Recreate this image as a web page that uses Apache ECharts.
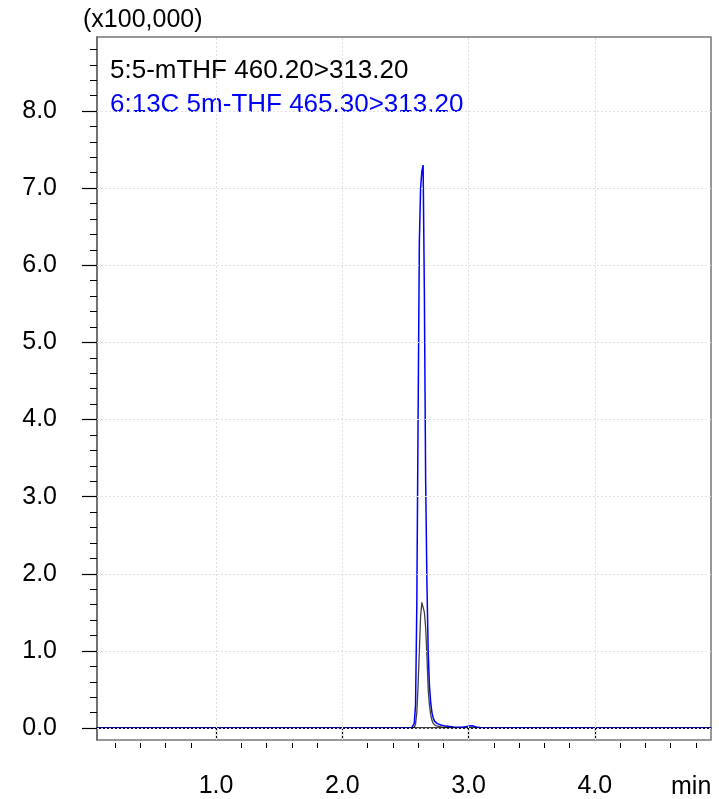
<!DOCTYPE html>
<html>
<head>
<meta charset="utf-8">
<script src="https://cdn.jsdelivr.net/npm/echarts@6/dist/echarts.min.js"></script>
<style>html,body{margin:0;padding:0;background:#fff;}#c{width:719px;height:799px;}</style>
</head>
<body>
<div id="c"></div>
<script>
// ---- data ----
const seriesNames = ['5:5-mTHF 460.20>313.20', '6:13C 5m-THF 465.30>313.20'];
const blackTime = [0.057,1.0,2.0,2.55,2.56,2.57,2.58,2.59,2.60,2.61,2.62,2.63,2.64,2.65,2.66,2.67,2.68,2.69,2.70,2.71,2.72,2.74,2.78,2.85,2.90,3.0,3.5,4.0,4.92];
const blackVal  = [0,0,0,0,0.005,0.01,0.05,0.2,0.55,1.0,1.45,1.63,1.65,1.5,1.3,0.95,0.5,0.3,0.17,0.1,0.06,0.03,0.015,0.005,0,0,0,0,0];
const blueTime = [0.057,1.0,2.0,2.50,2.55,2.56,2.57,2.58,2.59,2.60,2.61,2.62,2.63,2.64,2.65,2.66,2.67,2.68,2.69,2.70,2.71,2.72,2.73,2.75,2.78,2.82,2.88,2.95,3.00,3.03,3.06,3.10,3.20,3.40,3.60,3.80,4.00,4.50,4.92];
const blueVal  = [0,0,0,0,0.005,0.01,0.06,0.3,1.6,4.0,6.3,7.0,7.22,7.30,5.6,3.2,1.9,1.0,0.55,0.33,0.2,0.13,0.09,0.06,0.04,0.025,0.015,0.01,0.025,0.03,0.015,0.005,0,0.005,0,0.005,0,0,0];
const xMajor = [1,2,3,4];
const xMinor = [0.2,0.4,0.6,0.8,1.2,1.4,1.6,1.8,2.2,2.4,2.6,2.8,3.2,3.4,3.6,3.8,4.2,4.4,4.6,4.8];
const yMajor = [0,1,2,3,4,5,6,7,8];
const yMinor = [];
for (let i = 1; i <= 44; i++) { if (i % 5 !== 0) yMinor.push(+(i * 0.2).toFixed(1)); }
const yUnitLabel = '(x100,000)';
const xUnitLabel = 'min';

const X_MIN = 0.057, X_MAX = 4.92, Y_MIN = -0.155, Y_MAX = 8.96;
const FONT = 'Liberation Sans, Arial, sans-serif';
const FS = 25;
const FS_LEG = 26;

const pairs = (t, v) => t.map((x, i) => [x, v[i]]);

const chart = echarts.init(document.getElementById('c'), null, {renderer: 'canvas'});
const fmt = v => Number(v).toFixed(1);

const option = {
  animation: false,
  backgroundColor: '#fff',
  grid: {left: 97, right: 8, top: 37, bottom: 57, show: true, borderColor: '#777', borderWidth: 1.5, backgroundColor: 'transparent'},
  xAxis: [
    {type: 'value', min: X_MIN, max: X_MAX, position: 'bottom',
     axisLine: {show: true, lineStyle: {color: '#000', width: 1.5}},
     axisTick: {show: false}, axisLabel: {show: false}, splitLine: {show: false}},
    {type: 'value', min: X_MIN, max: X_MAX, position: 'bottom', offset: 3,
     axisLine: {show: false},
     axisTick: {show: true, customValues: xMajor, length: 12, lineStyle: {color: '#000', width: 1.2}},
     axisLabel: {show: true, customValues: xMajor, formatter: fmt, margin: 31, color: '#000', fontSize: FS, fontFamily: FONT},
     splitLine: {show: false}},
    {type: 'value', min: X_MIN, max: X_MAX, position: 'bottom', offset: 3,
     axisLine: {show: false},
     axisTick: {show: true, customValues: xMinor, length: 5, lineStyle: {color: '#000', width: 1}},
     axisLabel: {show: false}, splitLine: {show: false}}
  ],
  yAxis: [
    {type: 'value', min: Y_MIN, max: Y_MAX, position: 'left',
     axisLine: {show: true, lineStyle: {color: '#666', width: 1.5}},
     axisTick: {show: true, customValues: yMajor, length: 15, lineStyle: {color: '#000', width: 1.2}},
     axisLabel: {show: true, customValues: yMajor, formatter: fmt, margin: 40, color: '#000', fontSize: FS, fontFamily: FONT},
     splitLine: {show: false}},
    {type: 'value', min: Y_MIN, max: Y_MAX, position: 'left',
     axisLine: {show: false},
     axisTick: {show: true, customValues: yMinor, length: 7, lineStyle: {color: '#000', width: 1}},
     axisLabel: {show: false}, splitLine: {show: false}}
  ],
  series: [
    {type: 'line', name: 'grid', data: [], xAxisIndex: 0, yAxisIndex: 0, z: 1, silent: true,
     markLine: {silent: true, symbol: 'none', label: {show: false}, animation: false,
       lineStyle: {color: '#e0e0e0', type: [2, 2], width: 1},
       data: xMajor.map(v => ({xAxis: v})).concat(yMajor.map(v => ({yAxis: v})))}},
    {type: 'line', name: seriesNames[1], data: pairs(blueTime, blueVal), xAxisIndex: 0, yAxisIndex: 0,
     showSymbol: false, z: 3, lineStyle: {color: '#0000ff', width: 1.5}, itemStyle: {color: '#0000ff'}},
    {type: 'line', name: seriesNames[0], data: pairs(blackTime, blackVal), xAxisIndex: 0, yAxisIndex: 0,
     showSymbol: false, z: 4, lineStyle: {color: '#000', width: 1.3, opacity: 0.75}, itemStyle: {color: '#000'}}
  ],
  graphic: [
    {type: 'text', left: 83, top: 8, style: {text: yUnitLabel, fill: '#000', font: FS + 'px ' + FONT}},
    {type: 'text', left: 110, top: 58, style: {text: seriesNames[0], fill: '#000', font: FS_LEG + 'px ' + FONT}},
    {type: 'text', left: 110, top: 92, style: {text: seriesNames[1], fill: '#0000ff', font: FS_LEG + 'px ' + FONT}},
    {type: 'text', left: 671, top: 775, style: {text: xUnitLabel, fill: '#000', font: FS + 'px ' + FONT}}
  ]
};
chart.setOption(option);
</script>
</body>
</html>
